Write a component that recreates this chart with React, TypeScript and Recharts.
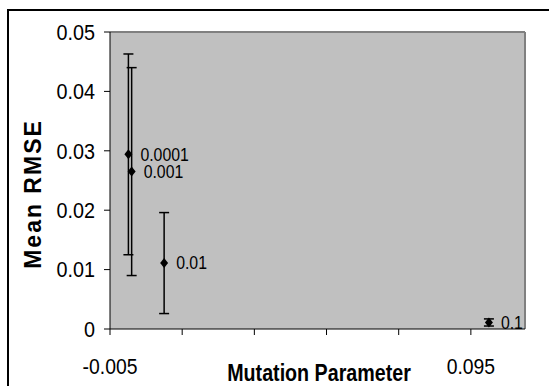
import {
  ScatterChart,
  Scatter,
  XAxis,
  YAxis,
  ErrorBar,
  CartesianGrid,
  ReferenceLine,
} from "recharts";

const mutationLabels = ["0.0001", "0.001", "0.01", "0.1"];
const mutationValues = [0.0001, 0.001, 0.01, 0.1];
const meanRmse = [0.0294, 0.0265, 0.0111, 0.0011];
const rmseError = [0.0169, 0.0175, 0.0085, 0.0006];
const xTicks = [-0.005, 0.015, 0.035, 0.055, 0.075, 0.095];
const xTickLabels = ["-0.005", "", "", "", "", "0.095"];
const yTicks = [0, 0.01, 0.02, 0.03, 0.04, 0.05];

const data = mutationValues.map((x, i) => ({
  x,
  y: meanRmse[i],
  err: rmseError[i],
  label: mutationLabels[i],
}));

const FONT = '"Liberation Sans", Arial, sans-serif';

// narrow look: squeeze regular glyphs horizontally around the anchor point
const Narrow = ({ x, y, size, squeeze = 0.88, anchor = "start", dy = "0", bold = false, children }: any) => (
  <text
    x={0}
    y={0}
    dy={dy}
    transform={`translate(${x} ${y}) scale(${squeeze} 1)`}
    textAnchor={anchor}
    fontFamily={FONT}
    fontSize={size}
    fontWeight={bold ? "bold" : "normal"}
    fill="#000"
  >
    {children}
  </text>
);

const XTick = (props: any) => {
  const { x, y, payload } = props;
  const text = xTickLabels[xTicks.indexOf(payload.value)] ?? "";
  return (
    <Narrow x={x} y={y} size={22} squeeze={0.88} anchor="middle" dy="0.71em">
      {text}
    </Narrow>
  );
};

const YTick = (props: any) => {
  const { x, y, payload } = props;
  return (
    <Narrow x={x} y={y} size={22} squeeze={0.9} anchor="end" dy="0.355em">
      {String(payload.value)}
    </Narrow>
  );
};

const Diamond = (props: any) => {
  const { cx, cy, payload } = props;
  return (
    <g>
      <path
        d={`M${cx},${cy - 5} L${cx + 4},${cy} L${cx},${cy + 5} L${cx - 4},${cy} Z`}
        fill="#000"
      />
      <Narrow x={cx + 12} y={cy} size={18} squeeze={0.88} dy="0.355em">
        {payload.label}
      </Narrow>
    </g>
  );
};

const App = () => {
  return (
    <div
      style={{
        position: "fixed",
        left: 0,
        top: 0,
        width: 549,
        height: 386,
        overflow: "hidden",
        background: "#fff",
      }}
    >
      <div
        style={{
          position: "absolute",
          left: 7,
          top: 9,
          width: 600,
          height: 400,
          borderTop: "2px solid #000",
          borderLeft: "2px solid #000",
        }}
      />
      <div style={{ position: "absolute", left: 0, top: 0 }}>
        <ScatterChart
          width={549}
          height={386}
          margin={{ top: 32, right: 24, bottom: 0, left: 0 }}
        >
          <CartesianGrid fill="#C0C0C0" horizontal={false} vertical={false} />
          <ReferenceLine y={0.05} stroke="#808080" strokeWidth={2} />
          <ReferenceLine x={0.11} stroke="#808080" strokeWidth={2} />
          <XAxis
            type="number"
            dataKey="x"
            domain={[-0.005, 0.11]}
            allowDataOverflow
            ticks={xTicks}
            height={57}
            tickSize={6}
            tickMargin={23}
            axisLine={{ stroke: "#000" }}
            tickLine={{ stroke: "#000" }}
            tick={<XTick />}
            label={{
              content: () => (
                <Narrow x={319} y={381} size={24} squeeze={0.82} anchor="middle" bold>
                  Mutation Parameter
                </Narrow>
              ),
            }}
          />
          <YAxis
            type="number"
            dataKey="y"
            domain={[0, 0.05]}
            allowDataOverflow
            ticks={yTicks}
            width={110}
            tickSize={6}
            tickMargin={9}
            axisLine={{ stroke: "#000" }}
            tickLine={{ stroke: "#000" }}
            tick={<YTick />}
            label={{
              content: () => (
                <text
                  x={33}
                  y={194}
                  transform="rotate(-90 33 194)"
                  textAnchor="middle"
                  dominantBaseline="central"
                  fontFamily={FONT}
                  fontWeight="bold"
                  fontSize={23}
                  letterSpacing={2}
                  fill="#000"
                >
                  Mean RMSE
                </text>
              ),
            }}
          />
          <Scatter data={data} shape={Diamond} isAnimationActive={false}>
            <ErrorBar
              dataKey="err"
              direction="y"
              width={5}
              stroke="#000"
              strokeWidth={1.5}
              isAnimationActive={false}
            />
          </Scatter>
        </ScatterChart>
      </div>
    </div>
  );
};

export default App;
